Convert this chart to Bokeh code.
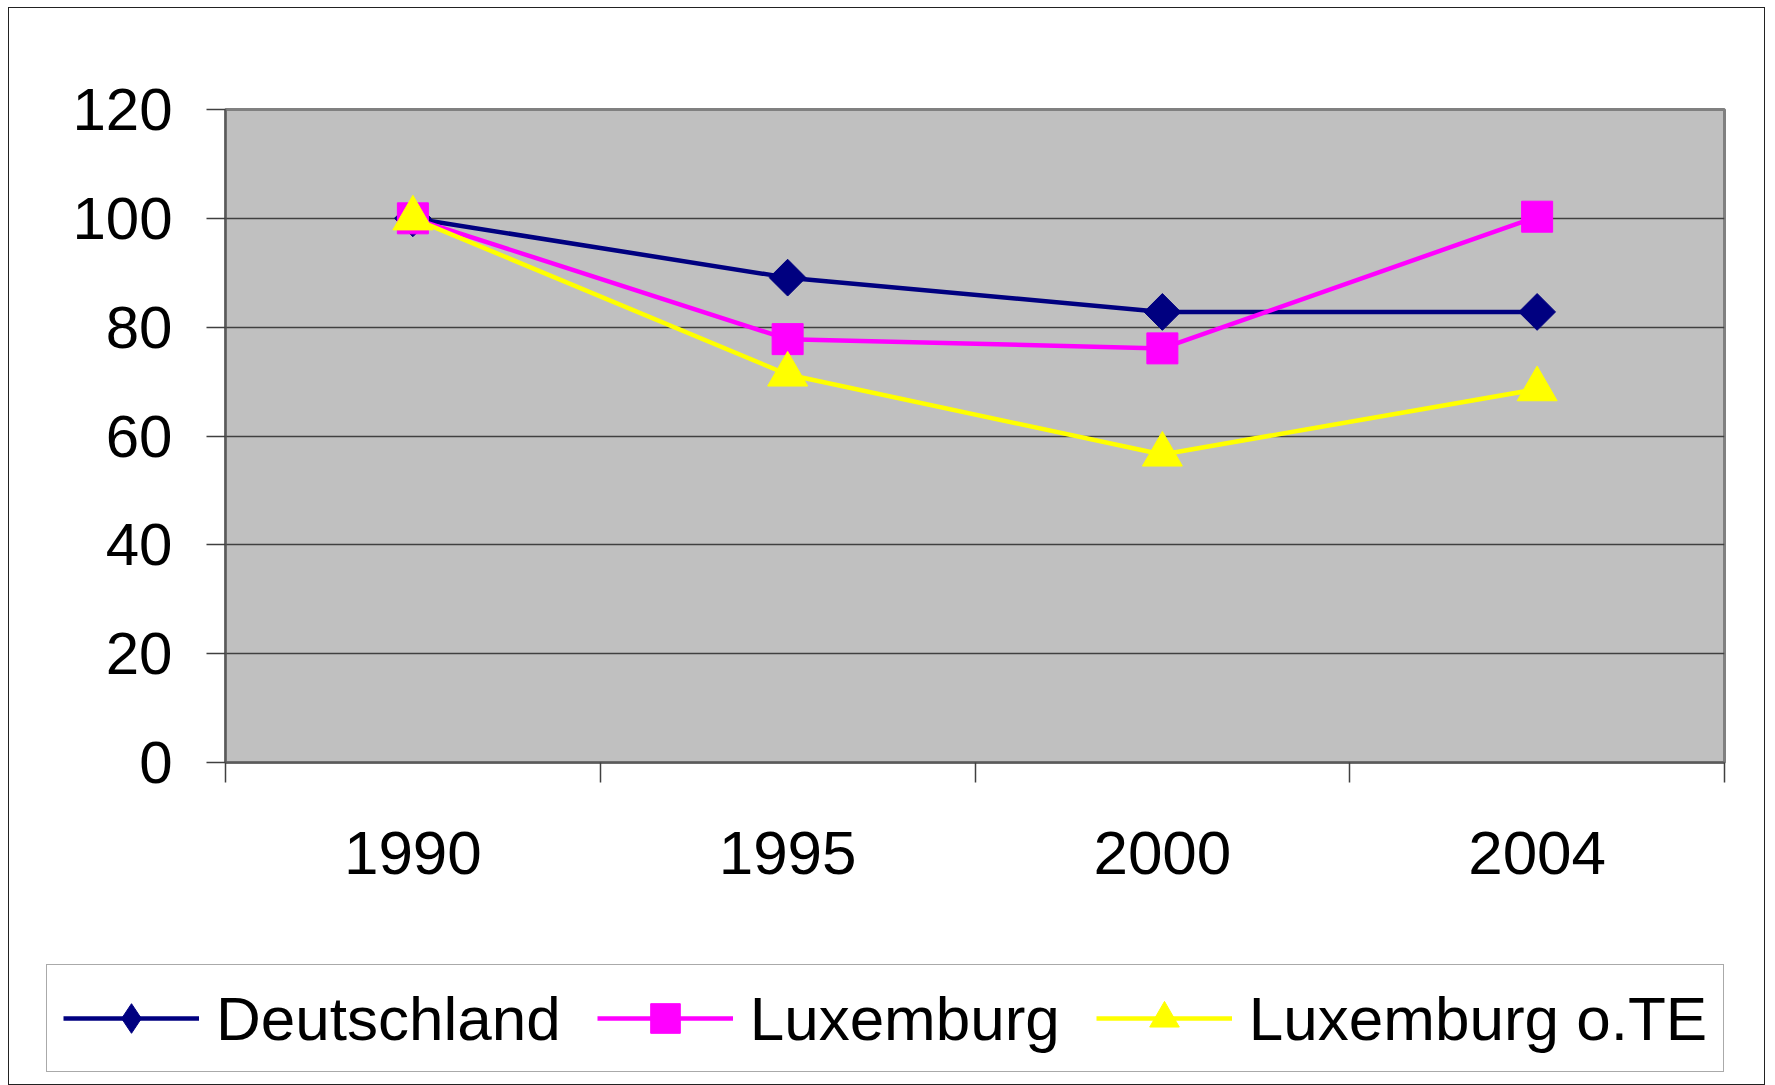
import numpy as np
from bokeh.plotting import figure
from bokeh.layouts import column, row
from bokeh.models import FixedTicker, Legend, LegendItem, Range1d
from bokeh.embed import file_html
from bokeh.resources import INLINE

# ---- data ----
years = ["1990", "1995", "2000", "2004"]
deutschland = [100.0, 89.1, 82.8, 82.8]
luxemburg = [100.0, 77.8, 76.1, 100.3]
luxemburg_ote = [100.0, 71.3, 56.6, 68.6]
y_ticks = [0, 20, 40, 60, 80, 100, 120]
series_names = ["Deutschland", "Luxemburg", "Luxemburg o.TE"]
series_values = [deutschland, luxemburg, luxemburg_ote]
series_colors = ["#000080", "#FF00FF", "#FFFF00"]

FONT = "Liberation Sans"

x_centers = [i + 0.5 for i in range(len(years))]
x_bounds = [float(i) for i in range(len(years) + 1)]

W = 1755
p = figure(width=W, height=940, output_backend="svg", toolbar_location=None,
           x_range=Range1d(0, len(years)), y_range=Range1d(0, 120),
           min_border_left=216, min_border_right=40, min_border_top=101,
           min_border_bottom=186)
p.background_fill_color = "#C0C0C0"
p.border_fill_color = "white"
p.outline_line_color = "#808080"
p.outline_line_width = 3

# grid
p.xgrid.grid_line_color = None
p.ygrid.ticker = FixedTicker(ticks=y_ticks)
p.ygrid.grid_line_color = "#404040"
p.ygrid.grid_line_width = 1.5

# y axis
yax = p.yaxis[0]
yax.ticker = FixedTicker(ticks=y_ticks)
yax.axis_line_color = "#5a5a5a"
yax.axis_line_width = 2
yax.major_tick_line_color = "#404040"
yax.major_tick_line_width = 1.5
yax.major_tick_out = 19
yax.major_tick_in = 0
yax.minor_tick_line_color = None
yax.major_label_standoff = 34
yax.major_label_text_font = FONT
yax.major_label_text_font_size = "60px"
yax.major_label_text_color = "black"

# x axis: labels at category centres, ticks at category boundaries
xax = p.xaxis[0]
xax.ticker = FixedTicker(ticks=x_centers, minor_ticks=x_bounds)
xax.major_label_overrides = {c: y for c, y in zip(x_centers, years)}
xax.axis_line_color = "#5a5a5a"
xax.axis_line_width = 2
xax.major_tick_line_color = None
xax.major_tick_out = 0
xax.major_tick_in = 0
xax.minor_tick_line_color = "#404040"
xax.minor_tick_line_width = 1.5
xax.minor_tick_out = 20
xax.minor_tick_in = 0
xax.major_label_standoff = 49
xax.major_label_text_font = FONT
xax.major_label_text_font_size = "62px"
xax.major_label_text_color = "black"

LW = 4.5
PLOT_MARKERS = [dict(marker="square", angle=np.pi / 4, size=26),
                dict(marker="square", size=31),
                dict(marker="triangle", size=40)]
LEGEND_MARKERS = [dict(marker="diamond", size=40),
                  dict(marker="square", size=31),
                  dict(marker="triangle", size=40)]

for vals, col, mk in zip(series_values, series_colors, PLOT_MARKERS):
    p.line(x_centers, vals, line_color=col, line_width=LW)
    p.scatter(x_centers, vals, fill_color=col, line_color=col, **mk)

# ---- legend strip (separate figure so the legend is not clipped) ----
pl = figure(width=W, height=136, output_backend="svg", toolbar_location=None,
            x_range=Range1d(0, 1), y_range=Range1d(0, 1),
            x_axis_type=None, y_axis_type=None,
            min_border_left=0, min_border_right=0, min_border_top=0,
            min_border_bottom=0)
pl.outline_line_color = None
pl.background_fill_color = "white"
pl.border_fill_color = "white"
pl.grid.grid_line_color = None

items = []
for name, vals, col, mk in zip(series_names, series_values, series_colors, LEGEND_MARKERS):
    # same series, drawn outside this strip's visible range; used only for the legend glyphs
    lr = pl.line(x_centers, vals, line_color=col, line_width=LW)
    sr = pl.scatter(x_centers, vals, fill_color=col, line_color=col, **mk)
    items.append(LegendItem(label=name, renderers=[lr, sr]))

legend = Legend(items=items, location=(37, 12), orientation="horizontal")
legend.label_text_font = FONT
legend.label_text_font_size = "62px"
legend.label_text_color = "black"
legend.glyph_width = 136
legend.glyph_height = 74
legend.label_standoff = 17
legend.spacing = 36
legend.padding = 16
legend.margin = 0
legend.border_line_color = "#555555"
legend.border_line_width = 1.5
legend.background_fill_color = "white"
legend.background_fill_alpha = 1.0
pl.add_layout(legend)

layout = column(p, row(pl), spacing=0)
layout.margin = (7, 0, 0, 8)
layout.styles = {"border": "1px solid #222222"}

open("out.html", "w").write(file_html(layout, INLINE))
